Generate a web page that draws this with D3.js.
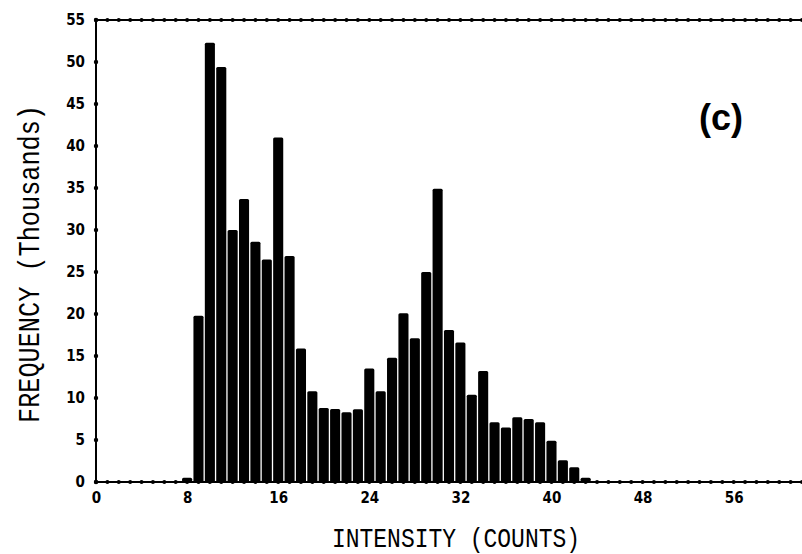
<!DOCTYPE html>
<html>
<head>
<meta charset="utf-8">
<script src="https://cdn.jsdelivr.net/npm/d3@7/dist/d3.min.js"></script>
<style>
  html, body { margin: 0; padding: 0; background: #fff; }
  svg { display: block; }
</style>
</head>
<body>
<svg id="chart" width="802" height="554"></svg>
<script>
// Intensity (counts) bins 0..62 and frequency (thousands)
const intensities = d3.range(0, 63);
const frequency = [
  0, 0, 0, 0, 0, 0, 0, 0, 0.5, 19.8,
  52.3, 49.4, 30.0, 33.7, 28.6, 26.5, 41.0, 26.9, 15.9, 10.8,
  8.8, 8.7, 8.3, 8.65, 13.5, 10.8, 14.8, 20.1, 17.1, 25.0,
  34.9, 18.1, 16.6, 10.4, 13.2, 7.1, 6.5, 7.7, 7.5, 7.1,
  4.9, 2.6, 1.75, 0.5, 0, 0, 0, 0, 0, 0,
  0, 0, 0, 0, 0, 0, 0, 0, 0, 0,
  0, 0, 0
];
const xTickLabels = [0, 8, 16, 24, 32, 40, 48, 56];
const yTickLabels = [0, 5, 10, 15, 20, 25, 30, 35, 40, 45, 50, 55];
const xTitle = "INTENSITY (COUNTS)";
const yTitle = "FREQUENCY (Thousands)";
const panelLabel = "(c)";

const svg = d3.select("#chart");
const x = d3.scaleLinear().domain([0, 62]).range([96, 802]);
const y = d3.scaleLinear().domain([0, 55]).range([482, 20]);
const unit = x(1) - x(0);
const barW = unit - 1.3;

// bars
svg.append("g").selectAll("rect")
  .data(intensities.map((d, i) => ({ k: d, v: frequency[i] })).filter(d => d.v > 0))
  .join("rect")
  .attr("x", d => x(d.k) - barW / 2)
  .attr("y", d => y(d.v))
  .attr("width", barW)
  .attr("height", d => y(0) - y(d.v))
  .attr("rx", 1.5)
  .attr("fill", "#000");

const tickFont = "'DejaVu Sans Condensed', 'DejaVu Sans', sans-serif";

// bottom axis
const gx = svg.append("g").attr("transform", `translate(0,${y(0)})`)
  .call(d3.axisBottom(x).tickValues(xTickLabels).tickSize(0).tickPadding(10).tickFormat(d3.format("d")));
gx.select(".domain").remove();
gx.selectAll("text").attr("font-family", tickFont).attr("font-weight", "bold")
  .attr("font-size", 15).attr("fill", "#000");

// left axis
const gy = svg.append("g").attr("transform", `translate(${x(0)},0)`)
  .call(d3.axisLeft(y).tickValues(yTickLabels).tickSize(0).tickPadding(11).tickFormat(d3.format("d")));
gy.select(".domain").remove();
gy.selectAll("text").attr("font-family", tickFont).attr("font-weight", "bold")
  .attr("font-size", 15).attr("fill", "#000");

// frame lines
svg.append("line").attr("x1", x(0)).attr("x2", 802).attr("y1", y(0)).attr("y2", y(0))
  .attr("stroke", "#000").attr("stroke-width", 2);
svg.append("line").attr("x1", x(0)).attr("x2", 802).attr("y1", y(55)).attr("y2", y(55))
  .attr("stroke", "#000").attr("stroke-width", 2);
svg.append("line").attr("x1", x(0)).attr("x2", x(0)).attr("y1", y(0)).attr("y2", y(55))
  .attr("stroke", "#000").attr("stroke-width", 2);

// tick dots
const dots = svg.append("g").attr("fill", "#000");
dots.selectAll("circle.b").data(intensities).join("circle").attr("class", "b")
  .attr("cx", d => x(d)).attr("cy", y(0)).attr("r", 2);
dots.selectAll("circle.t").data(intensities).join("circle").attr("class", "t")
  .attr("cx", d => x(d)).attr("cy", y(55)).attr("r", 2);
dots.selectAll("circle.l").data(yTickLabels).join("circle").attr("class", "l")
  .attr("cx", x(0)).attr("cy", d => y(d)).attr("r", 2.2);

// titles
const titleFont = "'Liberation Mono', 'DejaVu Sans Mono', monospace";
svg.append("text")
  .attr("x", 456).attr("y", 547)
  .attr("text-anchor", "middle")
  .attr("font-family", titleFont).attr("font-size", 27)
  .attr("textLength", 248).attr("lengthAdjust", "spacingAndGlyphs")
  .attr("fill", "#000")
  .text(xTitle);

svg.append("text")
  .attr("transform", "translate(39,264) rotate(-90)")
  .attr("text-anchor", "middle")
  .attr("font-family", titleFont).attr("font-size", 29)
  .attr("textLength", 318).attr("lengthAdjust", "spacingAndGlyphs")
  .attr("fill", "#000")
  .text(yTitle);

svg.append("text")
  .attr("x", 721).attr("y", 130)
  .attr("text-anchor", "middle")
  .attr("font-family", "'Liberation Sans', Arial, sans-serif")
  .attr("font-weight", "bold").attr("font-size", 36)
  .attr("fill", "#000")
  .text(panelLabel);
</script>
</body>
</html>
